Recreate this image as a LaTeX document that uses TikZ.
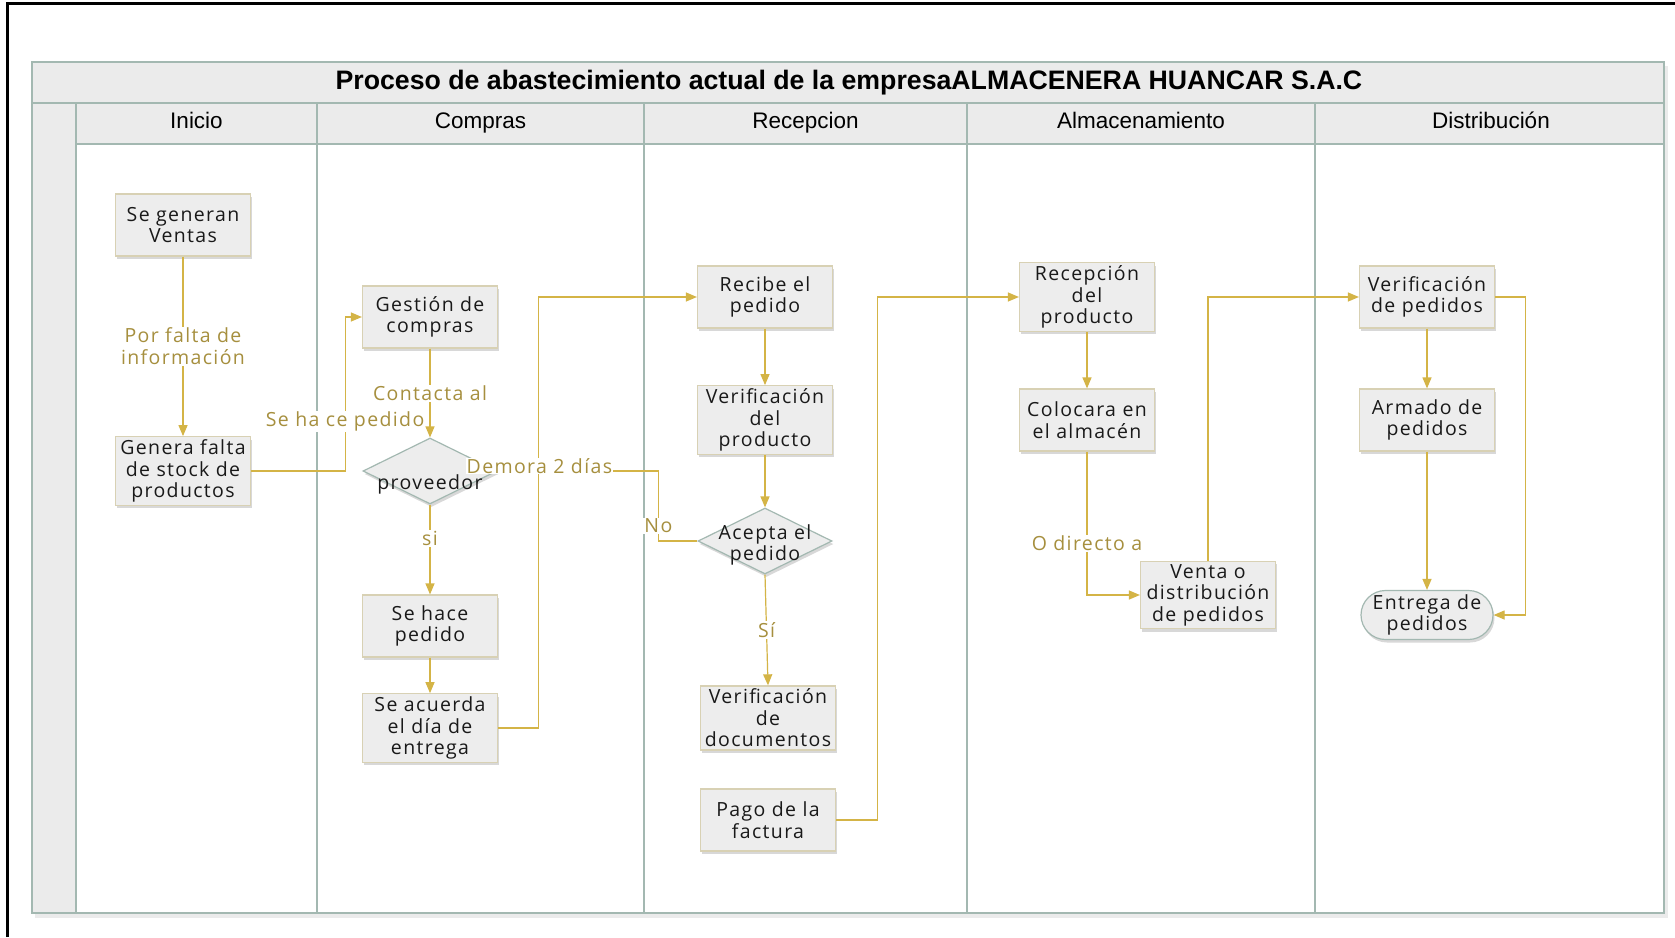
\documentclass[tikz,border=0pt]{standalone}
\usepackage{fontspec}
\setmainfont{Open Sans}
\newfontfamily\nodofont[LetterSpace=7]{Open Sans}
\newfontfamily\arialfont{Liberation Sans}
\usetikzlibrary{shapes.geometric,shapes.misc,shadows,arrows.meta}
\definecolor{linea}{HTML}{D4B446}
\definecolor{etiq}{HTML}{A68F3E}
\definecolor{carril}{HTML}{A3B8B1}
\definecolor{relleno}{HTML}{EDEDED}
\definecolor{borde}{HTML}{D8D1B4}
\definecolor{cabecera}{HTML}{EBEBEB}
\newcommand\nodo{\nodofont\fontsize{19.5}{21.5}\selectfont}
\tikzset{
  sombra/.style={drop shadow={shadow xshift=1.5pt,shadow yshift=-3pt,opacity=.25,fill=black!60}},
  paso/.style={draw=borde,fill=relleno,line width=1.2pt,minimum width=135pt,minimum height=62pt,
    inner sep=3pt,align=center,font=\nodo,text=black!90,sombra},
  dec/.style={diamond,draw=carril,fill=relleno,line width=1.2pt,minimum width=134pt,minimum height=66pt,
    inner sep=0pt,sombra},
  fin/.style={rounded rectangle,draw=carril,fill=relleno,line width=1.2pt,minimum width=134pt,
    minimum height=49pt,inner sep=1pt,align=center,font=\nodo,text=black!90,sombra},
  txt/.style={align=center,font=\nodo,text=black!90,inner sep=0pt},
  lbl/.style={fill=white,text=etiq,font=\nodo,align=center,inner sep=1pt},
  cab/.style={font=\arialfont\fontsize{22.5}{27}\selectfont,text height=16pt,text depth=5pt}
}
\begin{document}
\begin{tikzpicture}[x=1pt,y=-1pt,>={Triangle[length=11pt,width=9pt]}]
\useasboundingbox (0,0) rectangle (1675,937);
\draw[line width=3pt] (7,937) -- (7,3) -- (1675,3);
% piscina y carriles
\fill[black!8] (35,66) rectangle (1668,918);
\fill[white] (32,62) rectangle (1664,913);
\draw[carril,fill=cabecera,line width=1.2pt] (32,62) rectangle (1664,103);
\draw[carril,fill=cabecera,line width=1.2pt] (32,103) rectangle (76,913);
\draw[carril,fill=cabecera,line width=1.2pt] (76,103) rectangle (1664,144);
\foreach \x in {317,644,967,1315}
  \draw[carril,line width=1.2pt] (\x,103) -- (\x,913);
\draw[carril,line width=1.2pt] (32,62) rectangle (1664,913);
\node[font=\arialfont\bfseries\fontsize{26.7}{30}\selectfont] (titulo) at (849,83)
  {Proceso de abastecimiento actual de la empresaALMACENERA HUANCAR S.A.C};
\foreach \x/\t in {196.5/Inicio,480.5/Compras,805.5/Recepcion,1141/Almacenamiento,1491/Distribución}
  \node[cab] at (\x,123) {\t};
% pasos
\node[paso] (ventas) at (183,225) {Se generan\\Ventas};
\node[paso] (falta) at (183,471) {Genera falta\\de stock de\\productos};
\node[paso] (gestion) at (430,317) {Gestión de\\compras};
\node[dec,label={[txt,yshift=-13pt]center:proveedor}] (proveedor) at (430,471) {};
\node[paso] (sehace) at (430,626) {Se hace\\pedido};
\node[paso] (acuerda) at (430,728) {Se acuerda\\el día de\\entrega};
\node[paso] (recibe) at (765,297) {Recibe el\\pedido};
\node[paso] (verprod) at (765,420) {Verificación\\del\\producto};
\node[dec,label={[txt,yshift=-4pt]center:Acepta el\\pedido}] (acepta) at (765,541) {};
\node[paso] (verdoc) at (768,718) {Verificación\\de\\documentos};
\node[paso] (pago) at (768,820) {Pago de la\\factura};
\node[paso] (recep) at (1087,297) {Recepción\\del\\producto};
\node[paso] (colocar) at (1087,420) {Colocara en\\el almacén};
\node[paso] (venta) at (1208,595) {Venta o\\distribución\\de pedidos};
\node[paso] (verped) at (1427,297) {Verificación\\de pedidos};
\node[paso] (armado) at (1427,420) {Armado de\\pedidos};
\node[fin] (entrega) at (1427,615) {Entrega de\\pedidos};
% conectores
\begin{scope}[draw=linea,line width=1.2pt,every node/.style=lbl]
\draw[->,linea] (ventas) -- node {Por falta de\\información} (falta);
\draw[->,linea] (falta.east) -- ++(94,0) |- node[pos=.16] {Se ha ce pedido} (gestion.west);
\draw[->,linea] (gestion) -- node {Contacta al} (proveedor);
\draw[->,linea] (proveedor) -- node[pos=.38] {si} (sehace);
\draw[->,linea] (sehace) -- (acuerda);
\draw[->,linea] (acuerda.east) -- ++(40,0) |- (recibe.west);
\draw[->,linea] (recibe) -- (verprod);
\draw[->,linea] (verprod) -- (acepta);
\draw[->,linea] (acepta.south) -- node {Sí} (verdoc.north);
\draw[linea] (acepta.west) -- ++(-39,0) |- node[pos=.11] {No}
  node[pos=.87,yshift=5pt,inner ysep=0pt] {Demora 2 días} (proveedor.east);
\draw[->,linea] (pago.east) -- ++(41,0) |- (recep.west);
\draw[->,linea] (recep) -- (colocar);
\draw[->,linea] (colocar.south) |- node[pos=.32] {O directo a} (venta.west);
\draw[->,linea] (venta.north) |- (verped.west);
\draw[->,linea] (verped) -- (armado);
\draw[->,linea] (armado) -- (entrega);
\draw[->,linea] (verped.east) -- ++(30,0) |- (entrega.east);
\end{scope}
\end{tikzpicture}
\end{document}
